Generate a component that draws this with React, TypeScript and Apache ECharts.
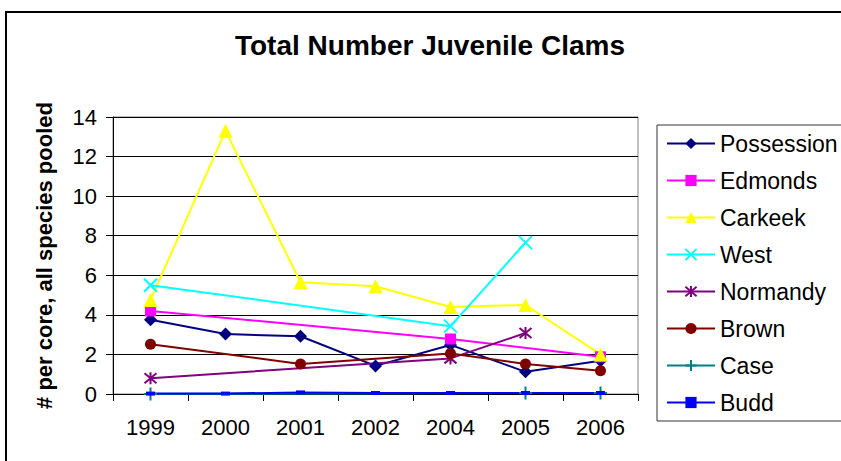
import React, { useEffect, useRef } from "react";
import * as echarts from "echarts";

const years = ["1999", "2000", "2001", "2002", "2004", "2005", "2006"];
const possession = [3.75, 3.03, 2.92, 1.42, 2.48, 1.12, 1.68];
const edmonds = [4.2, null, null, null, 2.78, null, 1.88];
const carkeek = [4.75, 13.3, 5.65, 5.45, 4.4, 4.5, 2.0];
const west = [5.5, null, null, null, 3.43, 7.65, null];
const normandy = [0.8, null, null, null, 1.8, 3.08, null];
const brown = [2.52, null, 1.52, null, 2.05, 1.52, 1.18];
const caseVals = [0.0, null, null, null, null, 0.05, 0.05];
const budd = [0.02, 0.02, 0.08, 0.05, 0.05, 0.05, 0.05];

const FONT = "Liberation Sans, Arial, sans-serif";

function mk(name: string, data: (number | null)[], color: string, symbol: string, size: any, outline = false) {
  return {
    name,
    type: "line",
    data,
    connectNulls: true,
    symbol,
    symbolSize: size,
    showSymbol: true,
    lineStyle: { color, width: 2 },
    itemStyle: outline
      ? { color: "rgba(0,0,0,0)", borderColor: color, borderWidth: 2 }
      : { color, borderWidth: 0 },
    emphasis: { disabled: true },
  };
}

export default function App() {
  const ref = useRef<HTMLDivElement>(null);
  useEffect(() => {
    document.body.style.margin = "0";
    const chart = echarts.init(ref.current!, null, { renderer: "svg" });
    chart.setOption({
      animation: false,
      backgroundColor: "#ffffff",
      textStyle: { fontFamily: FONT },
      grid: { left: 113, top: 117, right: 203, bottom: 67, show: true, borderColor: "#808080", borderWidth: 1 },
      graphic: [
        { type: "rect", shape: { x: 6, y: 12, width: 900, height: 500 }, style: { fill: "none", stroke: "#000", lineWidth: 2 }, silent: true },
        { type: "rect", shape: { x: 657, y: 125, width: 250, height: 296 }, style: { fill: "none", stroke: "#333", lineWidth: 1 }, silent: true },
        {
          type: "text",
          x: 430,
          y: 45,
          style: { text: "Total Number Juvenile Clams", font: "bold 28px " + FONT, fill: "#000", textAlign: "center", textVerticalAlign: "middle" },
        },
      ],
      legend: {
        orient: "vertical",
        left: 661,
        top: 127,
        itemWidth: 48,
        itemHeight: 14,
        itemGap: 14,
        textStyle: { fontSize: 23, color: "#000", fontFamily: FONT },
        data: ["Possession", "Edmonds", "Carkeek", "West", "Normandy", "Brown", "Case", "Budd"],
      },
      xAxis: {
        type: "category",
        data: years,
        boundaryGap: true,
        axisLine: { lineStyle: { color: "#000", width: 1 } },
        axisTick: { show: true, length: 7, interval: 0, lineStyle: { color: "#000" } },
        axisLabel: { fontSize: 22, color: "#000", margin: 22, fontFamily: FONT },
        splitLine: { show: false },
      },
      yAxis: {
        type: "value",
        min: 0,
        max: 14,
        interval: 2,
        name: "# per core, all species pooled",
        nameLocation: "middle",
        nameRotate: 90,
        nameGap: 58,
        nameTextStyle: { fontSize: 22, fontWeight: "bold", color: "#000", fontFamily: FONT },
        axisLine: { show: true, lineStyle: { color: "#000", width: 1 } },
        axisTick: { show: true, length: 7, lineStyle: { color: "#000" } },
        axisLabel: { fontSize: 22, color: "#000", margin: 16, fontFamily: FONT },
        splitLine: { show: true, lineStyle: { color: "#000", width: 1 } },
      },
      series: [
        mk("Possession", possession, "#000080", "diamond", 13),
        mk("Edmonds", edmonds, "#FF00FF", "rect", 11),
        mk("Carkeek", carkeek, "#FFFF00", "triangle", 14),
        mk("West", west, "#00FFFF", "path://M0,0L10,10M10,0L0,10", 13, true),
        mk("Normandy", normandy, "#800080", "path://M0,0L10,10M10,0L0,10M5,-1L5,11", 12, true),
        mk("Brown", brown, "#800000", "circle", 11),
        mk("Case", caseVals, "#008080", "path://M5,0L5,10M0,5L10,5", 13, true),
        mk("Budd", budd, "#0000FF", "rect", [9, 4]),
      ],
    });
    return () => chart.dispose();
  }, []);
  return <div ref={ref} style={{ width: 841, height: 461 }} />;
}
